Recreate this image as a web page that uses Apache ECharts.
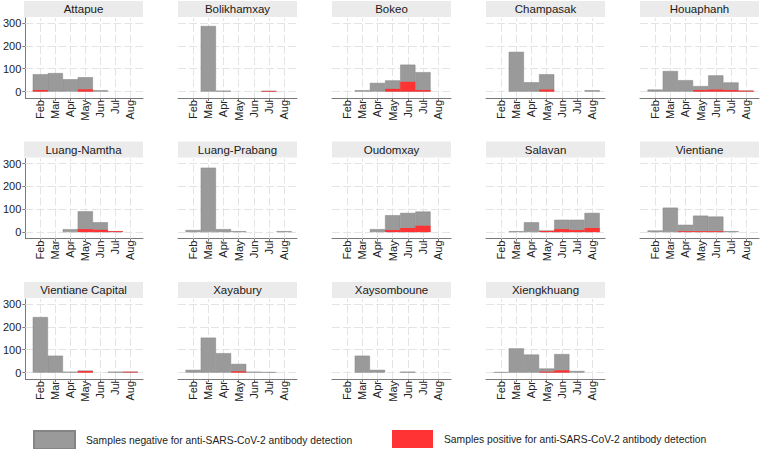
<!DOCTYPE html>
<html>
<head>
<meta charset="utf-8">
<script src="https://cdn.jsdelivr.net/npm/echarts@6/dist/echarts.min.js"></script>
<style>
  html, body { margin: 0; padding: 0; background: #fff; }
  #chart { width: 762px; height: 449px; }
</style>
</head>
<body>
<div id="chart"></div>
<script>
// 月份与省份
const months = ['Feb', 'Mar', 'Apr', 'May', 'Jun', 'Jul', 'Aug'];
const provinces = [
    'Attapue', 'Bolikhamxay', 'Bokeo', 'Champasak', 'Houaphanh',
    'Luang-Namtha', 'Luang-Prabang', 'Oudomxay', 'Salavan', 'Vientiane',
    'Vientiane Capital', 'Xayabury', 'Xaysomboune', 'Xiengkhuang'
];
const yTicks = [0, 100, 200, 300];

// 阴性样本（灰色，叠在阳性之上）
const negative = [
    [69, 81, 54, 53, 6, 0, 0],      // Attapue
    [0, 287, 4, 0, 0, 0, 0],        // Bolikhamxay
    [0, 6, 38, 37, 75, 78, 0],      // Bokeo
    [0, 174, 41, 67, 0, 0, 6],      // Champasak
    [9, 90, 50, 17, 62, 33, 0],     // Houaphanh
    [0, 0, 13, 78, 33, 0, 0],       // Luang-Namtha
    [9, 282, 13, 4, 0, 0, 4],       // Luang-Prabang
    [0, 0, 13, 65, 66, 62, 0],      // Oudomxay
    [0, 4, 43, 2, 41, 45, 66],      // Salavan
    [7, 107, 28, 68, 64, 4, 0],     // Vientiane
    [243, 74, 4, 2, 0, 4, 0],       // Vientiane Capital
    [12, 153, 85, 32, 4, 2, 0],     // Xayabury
    [0, 74, 12, 0, 4, 0, 0],        // Xaysomboune
    [2, 106, 79, 14, 71, 7, 0]      // Xiengkhuang
];

// 阳性样本（红色）
const positive = [
    [7, 0, 0, 10, 0, 0, 0],
    [0, 0, 0, 0, 0, 3, 0],
    [0, 0, 0, 12, 43, 7, 0],
    [0, 0, 0, 9, 0, 0, 0],
    [0, 0, 0, 7, 9, 7, 4],
    [0, 0, 0, 13, 10, 4, 0],
    [0, 0, 0, 0, 0, 0, 0],
    [0, 0, 0, 9, 18, 28, 0],
    [0, 0, 0, 5, 13, 9, 18],
    [0, 0, 4, 4, 4, 0, 0],
    [0, 0, 0, 7, 0, 0, 4],
    [0, 0, 0, 6, 0, 0, 0],
    [0, 0, 0, 0, 0, 0, 0],
    [0, 0, 0, 4, 10, 0, 0]
];

const negName = 'Samples negative for anti-SARS-CoV-2 antibody detection';
const posName = 'Samples positive for anti-SARS-CoV-2 antibody detection';

const chart = echarts.init(document.getElementById('chart'), null, { renderer: 'svg' });

const FONT = '"Liberation Sans", Arial, Helvetica, sans-serif';
const monthX = months.map((m, i) => i + 2);
const colW = 154, rowH = 140.5;
const plotW = 119, plotH = 80;

const grids = [], xAxes = [], yAxes = [], series = [], graphics = [];

provinces.forEach((name, p) => {
    const c = p % 5, r = Math.floor(p / 5);
    const left = 24 + c * colW;
    const top = 18 + r * rowH;

    grids.push({ left: left, top: top, width: plotW, height: plotH });

    xAxes.push({
        type: 'value',
        gridIndex: p,
        min: 1,
        max: 8.85,
        interval: 1,
        axisLine: { onZero: false, lineStyle: { color: '#7a7a7a', width: 1 } },
        axisTick: { customValues: monthX, length: 3, lineStyle: { color: '#7a7a7a' } },
        axisLabel: {
            customValues: monthX,
            rotate: 90,
            margin: 2,
            fontSize: 11,
            color: '#222',
            fontFamily: FONT,
            formatter: v => months[v - 2] || ''
        },
        splitLine: { show: false }
    });

    yAxes.push({
        type: 'value',
        gridIndex: p,
        min: -28,
        max: 322,
        axisLine: { show: c === 0, onZero: false, lineStyle: { color: '#7a7a7a' } },
        axisTick: { show: c === 0, customValues: yTicks, length: 3, lineStyle: { color: '#7a7a7a' } },
        axisLabel: {
            show: c === 0,
            customValues: yTicks,
            margin: 4,
            fontSize: 11,
            color: '#222',
            fontFamily: FONT
        },
        splitLine: { show: false }
    });

    // 灰色柱高度 = 阴性 + 阳性，红色柱从 0 起覆盖在底部
    series.push({
        type: 'bar',
        name: negName,
        xAxisIndex: p,
        yAxisIndex: p,
        barWidth: 15.2,
        itemStyle: { color: '#9a9a9a', borderColor: '#858585', borderWidth: 0.5 },
        data: negative[p].map((v, i) => {
            const total = v + positive[p][i];
            return [monthX[i], total === 0 ? '-' : total];
        }),
        markLine: {
            silent: true,
            z: 1,
            symbol: 'none',
            label: { show: false },
            lineStyle: { color: '#e4e4e4', type: [8, 3], width: 1 },
            data: yTicks.map(v => ({ yAxis: v })).concat(monthX.map(x => ({ xAxis: x })))
        }
    });

    series.push({
        type: 'bar',
        name: posName,
        xAxisIndex: p,
        yAxisIndex: p,
        barWidth: 15.2,
        barGap: '-100%',
        itemStyle: { color: '#ff3333' },
        data: positive[p].map((v, i) => [monthX[i], v === 0 ? '-' : v])
    });

    // 分面标题条
    graphics.push({
        type: 'rect',
        shape: { x: left, y: top - 17, width: plotW, height: 16 },
        style: { fill: '#ebebeb' },
        textContent: {
            style: { text: name, fill: '#1a1a1a', font: '11.5px ' + FONT }
        },
        textConfig: { position: 'inside' }
    });
});

const legendBase = {
    top: 430,
    itemWidth: 41,
    itemHeight: 18,
    padding: 0,
    icon: 'rect',
    selectedMode: false,
    textStyle: { fontSize: 10.3, color: '#222', fontFamily: FONT, padding: [0, 0, 0, 6] }
};

const option = {
    backgroundColor: '#fff',
    animation: false,
    grid: grids,
    xAxis: xAxes,
    yAxis: yAxes,
    series: series,
    graphic: graphics,
    legend: [
        Object.assign({ data: [negName], left: 33 }, legendBase),
        Object.assign({ data: [posName], left: 392 }, legendBase)
    ]
};

chart.setOption(option);
</script>
</body>
</html>
